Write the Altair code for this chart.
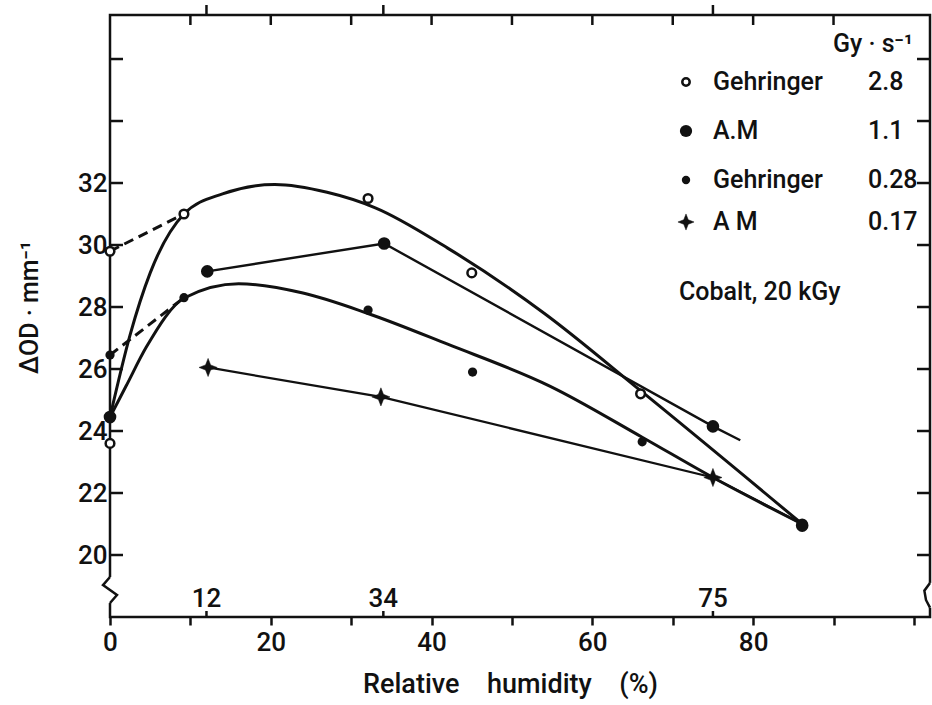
import altair as alt
import pandas as pd

geh28_x = [0, 0, 9.2, 32.1, 45.0, 66.0, 86.1]          # Gehringer 2.8 Gy/s (open circles)
geh28_y = [29.8, 23.6, 31.0, 31.5, 29.1, 25.2, 21.0]
am11_x = [0, 12.1, 34.1, 75.0, 86.1]                   # A.M 1.1 Gy/s (large dots)
am11_y = [24.45, 29.15, 30.05, 24.15, 20.95]
geh028_x = [0, 9.2, 32.1, 45.1, 66.2]                  # Gehringer 0.28 Gy/s (small dots)
geh028_y = [26.45, 28.3, 27.9, 25.9, 23.65]
am017_x = [12.2, 33.7, 75.0]                           # A M 0.17 Gy/s (stars)
am017_y = [26.05, 25.1, 22.5]

# ---------------- drawn lines ----------------
upper_x = [0, 2.5, 5.0, 9.2, 14.0, 20.5, 27.0, 33.0, 42.0, 54.0, 66.0, 86.1]
upper_y = [24.45, 27.1, 29.1, 31.0, 31.65, 31.95, 31.7, 31.2, 29.9, 27.8, 25.3, 21.0]
lower_x = [0, 2.0, 4.5, 9.3, 16.0, 24.0, 32.0, 42.0, 54.7, 66.2, 75.0, 86.1]
lower_y = [24.45, 25.45, 26.7, 28.3, 28.75, 28.45, 27.8, 26.8, 25.45, 23.8, 22.5, 21.0]
am11_line_x = [12.1, 34.1, 75.0, 78.4]
am11_line_y = [29.15, 30.05, 24.15, 23.7]
am017_line_x = [12.2, 33.7, 75.0, 86.1]
am017_line_y = [26.05, 25.1, 22.5, 21.0]
dash28_x = [0, 9.2]
dash28_y = [29.8, 31.0]
dash028_x = [0, 9.2]
dash028_y = [26.45, 28.3]

# ---------------- axes / annotations ----------------
x_ticks = list(range(0, 101, 10))
x_top_ticks = list(range(10, 91, 10))
y_ticks = list(range(20, 37, 2))
y_labels = list(range(20, 33, 2))
rh_marks = [12, 34, 75]
left_break_x = [0, -0.87, 0.87, 0]
left_break_y = [19.29, 19.03, 18.71, 18.45]
right_break_x = [102, 101.3, 101.5, 102]
right_break_y = [19.1, 18.85, 18.55, 18.3]

leg_names = ["Gehringer", "A.M", "Gehringer", "A M"]
leg_rates = ["2.8", "1.1", "0.28", "0.17"]
leg_unit = "Gy · s⁻¹"
note = "Cobalt, 20 kGy"
x_title = "Relative\u2003humidity\u2003(%)"
y_title = "ΔOD · mm⁻¹"

FONT = "Roboto"
FW = 500
INK = "#111111"
W, H = 820, 602
XS = alt.Scale(domain=[0, 102], nice=False, zero=False)
YS = alt.Scale(domain=[18, 37.42], nice=False, zero=False)
STAR = "M0,-1L0.28,-0.28L1,0L0.28,0.28L0,1L-0.28,0.28L-1,0L-0.28,-0.28Z"

x_axis = alt.Axis(
    values=x_ticks, format="d",
    labelExpr="(datum.value % 20 == 0 && datum.value <= 80) ? datum.label : ''",
    labelFont=FONT, labelFontSize=26, labelFontWeight=FW, labelColor=INK, labelPadding=4,
    labelFlush=False, labelOverlap=False,
    tickSize=8, tickWidth=2.5, tickColor=INK, domain=False, grid=False,
    title=x_title, titleFont=FONT, titleFontSize=27, titleFontWeight=FW,
    titleColor=INK, titleX=400, titleY=67, titleBaseline="middle", titleAlign="center",
)
y_axis = alt.Axis(
    values=y_labels, format="d",
    labelFont=FONT, labelFontSize=26, labelFontWeight=FW, labelColor=INK, labelPadding=3,
    ticks=False, tickSize=0, domain=False, grid=False,
    title=y_title, titleFont=FONT, titleFontSize=25, titleFontWeight=FW,
    titleColor=INK, titleX=-81, titleY=292, titleAngle=270,
    titleBaseline="middle", titleAlign="center",
)


def df(x, y):
    return pd.DataFrame({"x": x, "y": y})


def xe(field="x"):
    return alt.X(f"{field}:Q", scale=XS, axis=x_axis)


def ye(field="y"):
    return alt.Y(f"{field}:Q", scale=YS, axis=y_axis)


layers = []

# smooth fitted curves
for cx, cy in [(upper_x, upper_y), (lower_x, lower_y)]:
    layers.append(alt.Chart(df(cx, cy)).mark_line(
        color=INK, strokeWidth=3, interpolate="monotone").encode(x=xe(), y=ye()))
# straight connections
for lx, ly, w in [(am11_line_x, am11_line_y, 2.4), (am017_line_x, am017_line_y, 2.2)]:
    layers.append(alt.Chart(df(lx, ly)).mark_line(color=INK, strokeWidth=w).encode(x=xe(), y=ye()))
for lx, ly in [(dash28_x, dash28_y), (dash028_x, dash028_y)]:
    layers.append(alt.Chart(df(lx, ly)).mark_line(
        color=INK, strokeWidth=3, strokeDash=[10, 6]).encode(x=xe(), y=ye()))

# tick decorations
layers.append(alt.Chart(pd.DataFrame({"y": y_ticks})).mark_rule(color=INK, strokeWidth=2.5).encode(
    y=ye(), x=alt.value(0), x2=alt.value(13)))
layers.append(alt.Chart(pd.DataFrame({"y": y_ticks})).mark_rule(color=INK, strokeWidth=2.5).encode(
    y=ye(), x=alt.value(W - 13), x2=alt.value(W)))
layers.append(alt.Chart(pd.DataFrame({"x": x_top_ticks})).mark_rule(color=INK, strokeWidth=2.5).encode(
    x=xe(), y=alt.value(0), y2=alt.value(10)))
layers.append(alt.Chart(pd.DataFrame({"x": rh_marks})).mark_rule(color=INK, strokeWidth=2.5).encode(
    x=xe(), y=alt.value(-10), y2=alt.value(0)))
layers.append(alt.Chart(pd.DataFrame({"x": rh_marks})).mark_rule(color=INK, strokeWidth=2.5).encode(
    x=xe(), y=alt.value(H - 6), y2=alt.value(H)))
layers.append(alt.Chart(pd.DataFrame({"x": rh_marks, "t": [str(v) for v in rh_marks]})).mark_text(
    font=FONT, fontSize=26, fontWeight=FW, color=INK, baseline="bottom", align="center").encode(
    x=xe(), y=alt.value(H - 5), text="t:N"))

# axis breaks
for bx, by in [(left_break_x, left_break_y), (right_break_x, right_break_y)]:
    layers.append(alt.Chart(pd.DataFrame({"x": [bx[0]], "y": [by[0]], "y2": [by[-1]]})).mark_rule(
        color="white", strokeWidth=7).encode(x=xe(), y=ye(), y2="y2:Q"))
    layers.append(alt.Chart(pd.DataFrame({"x": bx, "y": by, "o": list(range(len(bx)))})).mark_line(
        color=INK, strokeWidth=2.5).encode(x=xe(), y=ye(), order="o:Q"))

# data markers
styles = [
    dict(shape="circle", filled=True, fill="white", stroke=INK, strokeWidth=2.5, size=75, opacity=1),
    dict(shape="circle", filled=True, fill=INK, stroke=INK, strokeWidth=0, size=160, opacity=1),
    dict(shape="circle", filled=True, fill=INK, stroke=INK, strokeWidth=0, size=85, opacity=1),
    dict(shape=STAR, filled=True, fill=INK, stroke=INK, strokeWidth=0.5, size=330, opacity=1),
]
series = [(geh28_x, geh28_y), (am11_x, am11_y), (geh028_x, geh028_y), (am017_x, am017_y)]
for (sx, sy), st in zip(series, styles):
    layers.append(alt.Chart(df(sx, sy)).mark_point(**st).encode(x=xe(), y=ye()))

# legend block
leg_rows_y = [67, 116, 165, 207]
leg_sizes = [55, 150, 70, 260]
layers.append(alt.Chart(pd.DataFrame({"t": [leg_unit]})).mark_text(
    font=FONT, fontSize=25, fontWeight=FW, color=INK, align="right", baseline="alphabetic").encode(
    x=alt.value(803), y=alt.value(37), text="t:N"))
for i, (nm, rt) in enumerate(zip(leg_names, leg_rates)):
    st = dict(styles[i])
    st["size"] = leg_sizes[i]
    layers.append(alt.Chart(pd.DataFrame({"t": [nm]})).mark_point(**st).encode(
        x=alt.value(576), y=alt.value(leg_rows_y[i])))
    layers.append(alt.Chart(pd.DataFrame({"t": [nm]})).mark_text(
        font=FONT, fontSize=25, fontWeight=FW, color=INK, align="left", baseline="middle").encode(
        x=alt.value(603), y=alt.value(leg_rows_y[i]), text="t:N"))
    layers.append(alt.Chart(pd.DataFrame({"t": [rt]})).mark_text(
        font=FONT, fontSize=25, fontWeight=FW, color=INK, align="left", baseline="middle").encode(
        x=alt.value(758), y=alt.value(leg_rows_y[i]), text="t:N"))
layers.append(alt.Chart(pd.DataFrame({"t": [note]})).mark_text(
    font=FONT, fontSize=25, fontWeight=FW, color=INK, align="left", baseline="middle").encode(
    x=alt.value(569), y=alt.value(277), text="t:N"))

chart = alt.layer(*layers).properties(
    width=W, height=H,
    autosize=alt.AutoSizeParams(type="none"),
    padding={"left": 110, "top": 15, "right": 2, "bottom": 88},
    background="white",
).configure_view(stroke=INK, strokeWidth=2.5)

chart.save("out.html", embed_options={"renderer": "svg", "actions": False})
